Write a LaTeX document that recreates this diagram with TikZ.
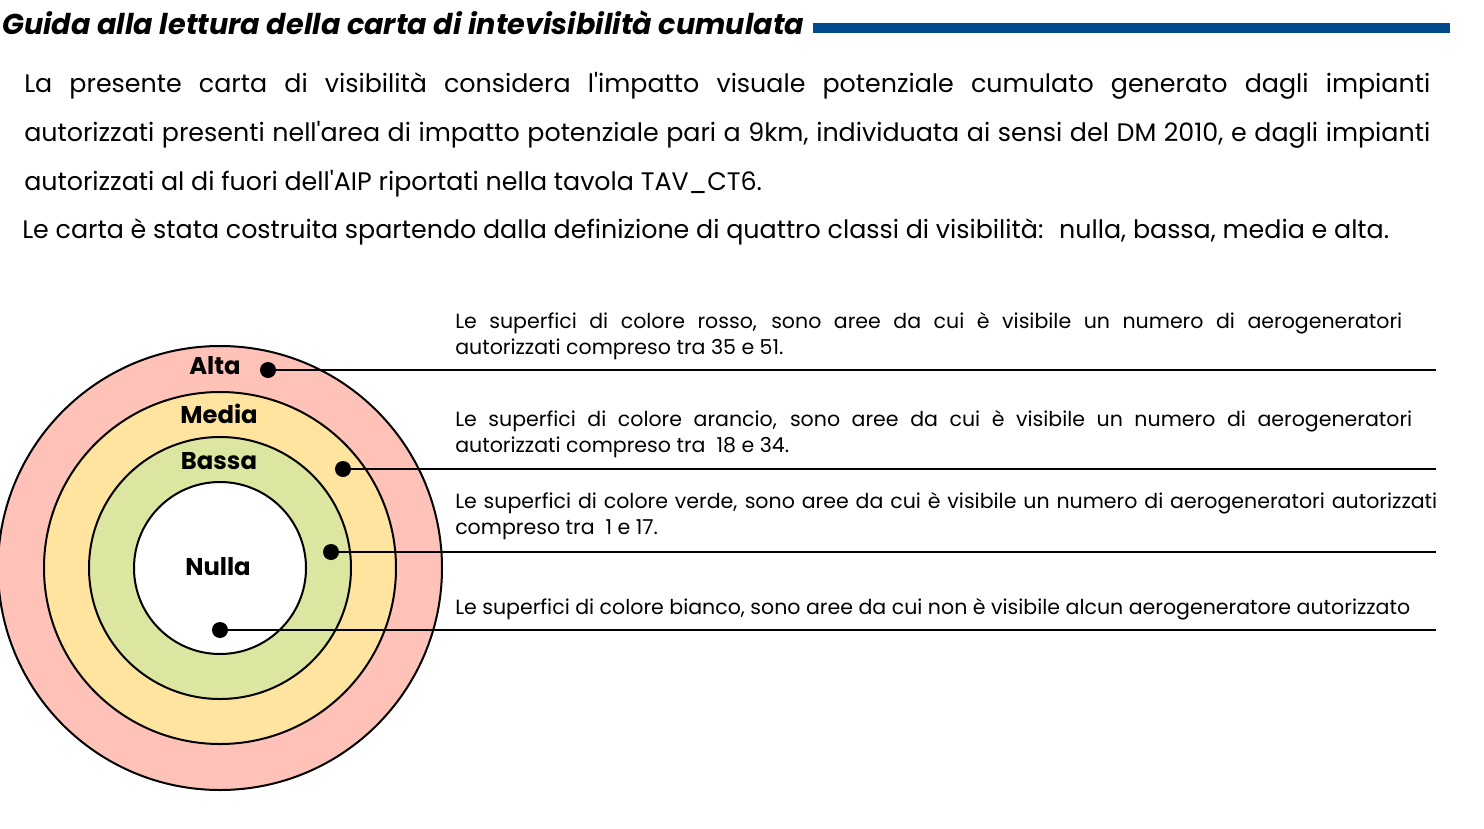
\documentclass[tikz,border=0pt]{standalone}
\usepackage{fontspec}
\setmainfont{Poppins}
\usetikzlibrary{positioning}

\newlength\px \setlength\px{0.75pt}
\definecolor{rosso}{RGB}{255,194,184}
\definecolor{arancio}{RGB}{255,228,160}
\definecolor{verde}{RGB}{221,230,160}
\definecolor{barblu}{RGB}{3,74,143}

\tikzset{
  ring/.style={circle, draw, line width=2\px, inner sep=0pt},
  lab/.style={font=\fontsize{18.2}{20}\selectfont\bfseries},
  desc/.style={anchor=north west, inner sep=0pt, align=left, font=\fontsize{15.4}{19.5}\selectfont},
  intro/.style={anchor=north west, inner sep=0pt, align=left, font=\fontsize{19}{36.75}\selectfont},
  dot/.style={circle, fill, inner sep=0pt, minimum size=16\px},
  leader/.style={line width=2\px},
}

\begin{document}
\begin{tikzpicture}[x=0.75pt, y=-0.75pt]
  \useasboundingbox (0,0) rectangle (1484,828);

  % titolo e barra
  \node (titolo) [anchor=base west, inner sep=0pt, font=\fontsize{21.5}{26}\selectfont\bfseries\itshape]
    at (2,34) {Guida alla lettura della carta di intevisibilità cumulata};
  \coordinate (barend) at (1450,28);
  \draw [barblu, line width=10\px] ([xshift=8\px]titolo.east |- barend) -- (barend);

  \node (premessa) [intro] at (24,72) {%
    \makebox[1406\px][s]{La presente carta di visibilità considera l\textquotesingle impatto visuale potenziale cumulato generato dagli impianti}\\
    \makebox[1406\px][s]{autorizzati presenti nell\textquotesingle area di impatto potenziale pari a 9km, individuata ai sensi del DM 2010, e dagli impianti}\\
    autorizzati al di fuori dell\textquotesingle AIP riportati nella tavola TAV\_CT6.};
  \node (classi) [intro] at (22,218) {Le carta è stata costruita spartendo dalla definizione di quattro classi di visibilità:~ nulla, bassa, media e alta.};

  % cerchi concentrici
  \node (alta) [ring, fill=rosso, minimum size=444\px] at (220,568) {};
  \node (media) [ring, fill=arancio, minimum size=352\px] at (alta.center) {};
  \node (bassa) [ring, fill=verde, minimum size=262\px] at (alta.center) {};
  \node (nulla) [ring, fill=white, minimum size=172\px] at (alta.center) {};

  \node (tAlta) [lab] at (215,366) {Alta};
  \node (tMedia) [lab] at (219,414) {Media};
  \node (tBassa) [lab] at (219,461) {Bassa};
  \node (tNulla) [lab] at (218,567) {Nulla};

  \foreach \n/\x/\y in {A/268/370, M/343/469, B/331/552, N/220/630}{
    \node (dot\n) [dot] at (\x,\y) {};
    \coordinate (end\n) at (1436,\y);
    \draw [leader] (dot\n.center) -- (end\n);
  }

  % legenda
  \node (dA) [desc] at (455,312) {%
    \makebox[947\px][s]{Le superfici di colore rosso, sono aree da cui è visibile un numero di aerogeneratori}\\
    autorizzati compreso tra 35 e 51.};
  \node (dM) [desc] at (455,410) {%
    \makebox[957\px][s]{Le superfici di colore arancio, sono aree da cui è visibile un numero di aerogeneratori}\\
    autorizzati compreso tra~ 18 e 34.};
  \node (dB) [desc] at (455,492) {%
    \makebox[982\px][s]{Le superfici di colore verde, sono aree da cui è visibile un numero di aerogeneratori autorizzati}\\
    compreso tra~ 1 e 17.};
  \node (dN) [desc] at (455,598) {Le superfici di colore bianco, sono aree da cui non è visibile alcun aerogeneratore autorizzato};
\end{tikzpicture}
\end{document}
